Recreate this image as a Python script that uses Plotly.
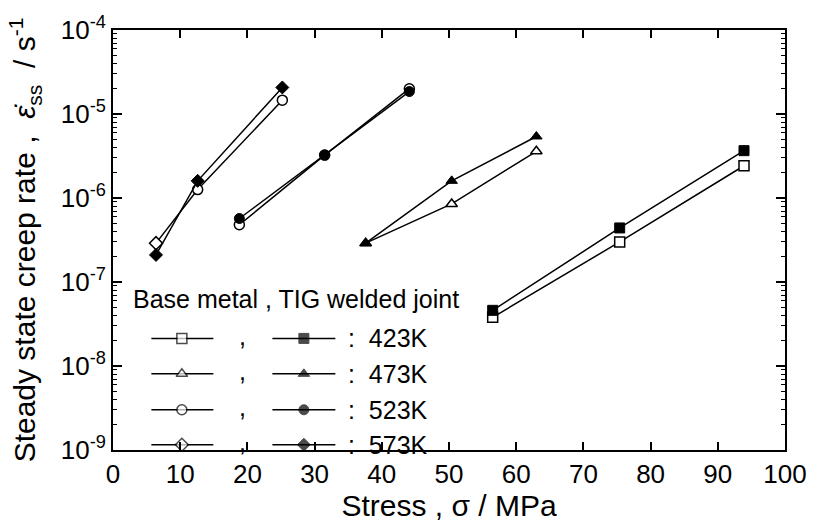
import plotly.graph_objects as go

# ---- data (stress in MPa, steady-state creep rate in 1/s) ----
stress_423 = [56.5, 75.4, 93.9]
base_423 = [3.8e-8, 3.0e-7, 2.42e-6]
weld_423 = [4.6e-8, 4.4e-7, 3.66e-6]

stress_473 = [37.6, 50.4, 63.0]
base_473 = [2.9e-7, 8.5e-7, 3.6e-6]
weld_473 = [2.9e-7, 1.6e-6, 5.4e-6]

stress_523 = [18.8, 31.5, 44.1]
base_523 = [4.8e-7, 3.24e-6, 2.0e-5]
weld_523 = [5.7e-7, 3.24e-6, 1.85e-5]

stress_573 = [6.4, 12.6, 25.2]
base_573 = [2.9e-7, 1.26e-6, 1.46e-5]
weld_573 = [2.1e-7, 1.6e-6, 2.07e-5]

temps = ["423K", "473K", "523K", "573K"]
x_ticks = [0, 10, 20, 30, 40, 50, 60, 70, 80, 90, 100]
y_exps = [-9, -8, -7, -6, -5, -4]

FONT = "Liberation Sans, Arial, sans-serif"
BLACK = "black"

series = [
    (stress_423, base_423, weld_423, "square", "square"),
    (stress_473, base_473, weld_473, "triangle-up", "triangle-up"),
    (stress_523, base_523, weld_523, "circle", "circle"),
    (stress_573, base_573, weld_573, ["diamond", "circle", "circle"], "diamond"),
]

fig = go.Figure()

# base metal (open markers)
for xs, b, w, sb, sw in series:
    fig.add_trace(go.Scatter(
        x=xs, y=b, mode="lines+markers",
        line=dict(color=BLACK, width=1.5),
        marker=dict(symbol=sb, size=10, color="white", line=dict(color=BLACK, width=1.5)),
        showlegend=False, hoverinfo="skip"))
# TIG welded joint (filled markers)
for xs, b, w, sb, sw in series:
    fig.add_trace(go.Scatter(
        x=xs, y=w, mode="lines+markers",
        line=dict(color=BLACK, width=1.5),
        marker=dict(symbol=sw, size=10, color=BLACK, line=dict(color=BLACK, width=1)),
        showlegend=False, hoverinfo="skip"))

# ---- hand-drawn legend on an overlay axis measured in pixels ----
L, R, T, B = 113, 796, 15, 453.5
leg_rows_y = [337, 374, 411.5, 448]
leg_sym = ["square", "triangle-up", "circle", "diamond"]
for yy, sym, lab in zip(leg_rows_y, leg_sym, temps):
    fig.add_trace(go.Scatter(
        x=[152, 183, 215], y=[yy, yy, yy], xaxis="x2", yaxis="y2",
        mode="lines+markers", line=dict(color=BLACK, width=1.5),
        marker=dict(symbol=sym, size=[0, 10, 0], color="white", line=dict(color=BLACK, width=1.5)),
        showlegend=False, hoverinfo="skip"))
    fig.add_trace(go.Scatter(
        x=[275, 307, 339], y=[yy, yy, yy], xaxis="x2", yaxis="y2",
        mode="lines+markers", line=dict(color=BLACK, width=1.5),
        marker=dict(symbol=sym, size=[0, 10, 0], color=BLACK, line=dict(color=BLACK, width=1)),
        showlegend=False, hoverinfo="skip"))
    fig.add_annotation(x=245, y=yy - 3, xref="x2", yref="y2", text=",", showarrow=False,
                       font=dict(family=FONT, size=25, color=BLACK), xanchor="center", yanchor="middle")
    fig.add_annotation(x=350, y=yy, xref="x2", yref="y2", text=":  " + lab, showarrow=False,
                       font=dict(family=FONT, size=25, color=BLACK), xanchor="left", yanchor="middle")

fig.add_annotation(x=131, y=296, xref="x2", yref="y2", text="Base metal , TIG welded joint",
                   showarrow=False, font=dict(family=FONT, size=25, color=BLACK),
                   xanchor="left", yanchor="middle")

minor_vals = [k * 10.0 ** e for e in y_exps[:-1] for k in range(2, 10)]

fig.update_layout(
    width=819, height=526,
    margin=dict(l=L, r=819 - R, t=T, b=526 - B),
    paper_bgcolor="white", plot_bgcolor="white",
    font=dict(family=FONT, color=BLACK),
    showlegend=False,
    xaxis=dict(
        range=[0, 100], tickvals=x_ticks, ticks="inside", ticklen=8, tickwidth=1.5,
        tickcolor=BLACK, showline=True, linecolor=BLACK, linewidth=2, mirror="ticks",
        showgrid=False, zeroline=False, tickfont=dict(family=FONT, size=26, color=BLACK),
        ticklabeloverflow="allow",
        title=dict(text="Stress , σ / MPa", font=dict(family=FONT, size=30, color=BLACK), standoff=4),
    ),
    yaxis=dict(
        type="log", range=[-9, -4], tickvals=[10.0 ** e for e in y_exps],
        ticktext=["10<sup>%d</sup>" % e for e in y_exps],
        ticks="inside", ticklen=9, tickwidth=1.5, tickcolor=BLACK,
        minor=dict(tickvals=minor_vals, ticks="inside", ticklen=4, tickwidth=1, tickcolor=BLACK, showgrid=False),
        showline=True, linecolor=BLACK, linewidth=2, mirror="ticks",
        showgrid=False, zeroline=False, tickfont=dict(family=FONT, size=26, color=BLACK),
        ticklabeloverflow="allow",
        title=dict(text="Steady state creep rate ,  <i>ε̇</i><sub>ss</sub>  / s<sup>-1</sup>",
                   font=dict(family=FONT, size=30, color=BLACK), standoff=16),
    ),
    xaxis2=dict(range=[L, R], overlaying="x", visible=False, fixedrange=True),
    yaxis2=dict(range=[B, T], overlaying="y", visible=False, fixedrange=True),
)

fig.write_html("out.html", config={"displayModeBar": False},
               post_script="document.body.style.margin='0';document.body.style.overflow='hidden';")
